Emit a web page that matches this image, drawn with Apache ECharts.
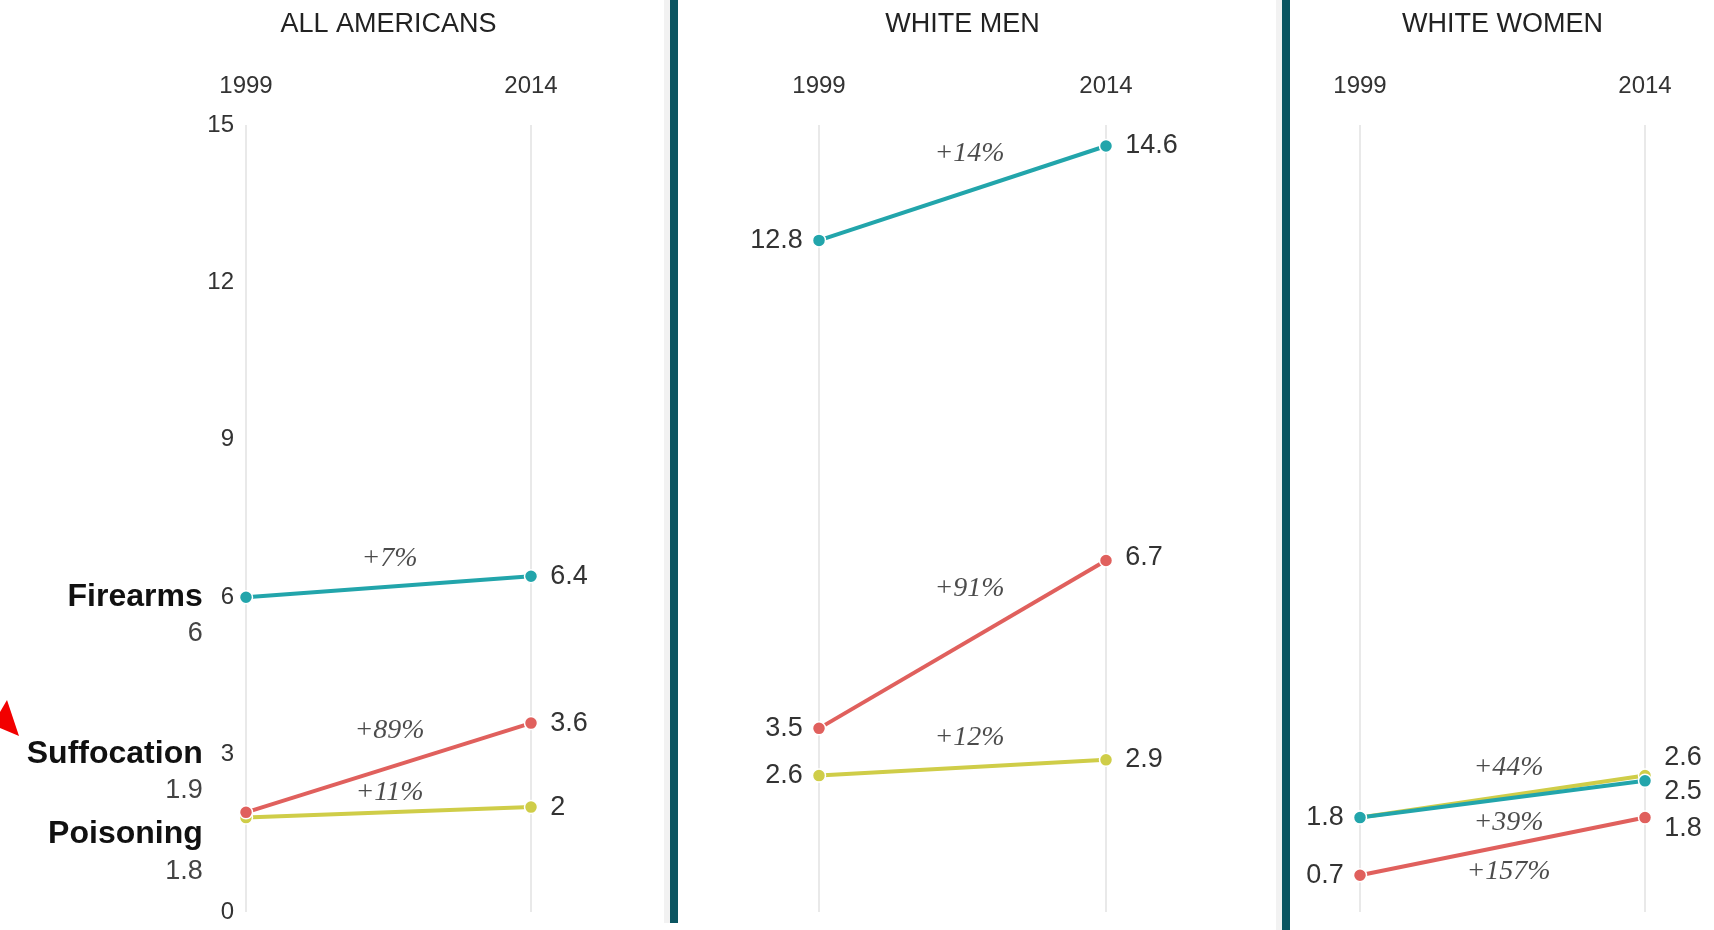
<!DOCTYPE html>
<html>
<head>
<meta charset="utf-8">
<script src="https://cdn.jsdelivr.net/npm/echarts@6/dist/echarts.min.js"></script>
<style>
  html, body { margin: 0; padding: 0; background: #fff; }
  #main { width: 1714px; height: 930px; }
</style>
</head>
<body>
<div id="main"></div>
<script>
// rates per 100,000, 1999 -> 2014
var years = ['1999', '2014'];
var panels = ['ALL AMERICANS', 'WHITE MEN', 'WHITE WOMEN'];
var causes = ['Poisoning', 'Firearms', 'Suffocation'];

var poisoning = [[1.8, 2], [2.6, 2.9], [1.8, 2.6]];
var firearms = [[6, 6.4], [12.8, 14.6], [1.8, 2.5]];
var suffocation = [[1.9, 3.6], [3.5, 6.7], [0.7, 1.8]];

var poisoningChange = ['+11%', '+12%', '+44%'];
var firearmsChange = ['+7%', '+14%', '+39%'];
var suffocationChange = ['+89%', '+91%', '+157%'];

var yMin = 0, yMax = 15, yStep = 3;

var colors = { Poisoning: '#cfcd48', Firearms: '#22a5ab', Suffocation: '#e0605d' };

// layout
var gridLeft = [246, 819, 1360];
var gridWidth = [285, 287, 285];
var gridTop = 125, gridBottom = 18;

// label nudges (px) per panel, per cause order above
var startLabelDy = [[35, 18, -40], [0, 0, 0], [0, 0, 0]];
var endLabelDy = [[0, 0, 0], [0, 0, -3], [-18, 11, 11]];
var pctOffset = [
  [[1, -20], [1, -28], [1, -37]],
  [[7, -30], [7, -40], [7, -56]],
  [[6, -29], [6, 23], [6, 25]]
];

var FONT = '"Liberation Sans", Arial, sans-serif';

var chart = echarts.init(document.getElementById('main'));

var values = { Poisoning: poisoning, Firearms: firearms, Suffocation: suffocation };
var changes = { Poisoning: poisoningChange, Firearms: firearmsChange, Suffocation: suffocationChange };

var grids = [], xAxes = [], yAxes = [], titles = [], series = [];

panels.forEach(function (p, i) {
  grids.push({ left: gridLeft[i], width: gridWidth[i], top: gridTop, bottom: gridBottom });
  titles.push({
    text: p,
    left: gridLeft[i] + gridWidth[i] / 2,
    top: 11,
    padding: 0,
    textAlign: 'center',
    textStyle: { fontFamily: FONT, fontSize: 27, fontWeight: 'normal', color: '#222' }
  });
  xAxes.push({
    type: 'category', gridIndex: i, data: years, position: 'top', boundaryGap: false,
    axisLine: { show: false }, axisTick: { show: false },
    axisLabel: { fontFamily: FONT, fontSize: 24, color: '#333', margin: 27 },
    splitLine: { show: true, lineStyle: { color: '#e2e2e2', width: 1.5 } }
  });
  // hidden 0..1 axis used to hang the % change labels halfway
  xAxes.push({ type: 'value', gridIndex: i, min: 0, max: 1, show: false });
  yAxes.push({
    type: 'value', gridIndex: i, min: yMin, max: yMax, interval: yStep,
    axisLine: { show: false }, axisTick: { show: false }, splitLine: { show: false },
    axisLabel: { show: i === 0, fontFamily: FONT, fontSize: 24, color: '#333', margin: 12 }
  });

  causes.forEach(function (c, k) {
    var v = values[c][i];
    var startLabel;
    if (i === 0) {
      startLabel = {
        show: true, position: 'left', distance: 36, offset: [0, startLabelDy[i][k]],
        formatter: '{n|' + c + '}\n{v|' + v[0] + '}',
        rich: {
          n: { fontFamily: FONT, fontSize: 32, fontWeight: 'bold', color: '#111', lineHeight: 37, align: 'right' },
          v: { fontFamily: FONT, fontSize: 27, color: '#444', lineHeight: 37, align: 'right' }
        }
      };
    } else {
      startLabel = {
        show: !(i === 2 && c === 'Poisoning'), position: 'left', distance: 9,
        offset: [0, startLabelDy[i][k]],
        fontFamily: FONT, fontSize: 27, color: '#333'
      };
    }
    series.push({
      type: 'line', name: c, xAxisIndex: i * 2, yAxisIndex: i,
      data: [
        { value: v[0], label: startLabel },
        { value: v[1], label: { show: true, position: 'right', distance: 12, offset: [0, endLabelDy[i][k]],
            fontFamily: FONT, fontSize: 27, color: '#333' } }
      ],
      symbol: 'circle', symbolSize: 13,
      lineStyle: { color: colors[c], width: 4 },
      itemStyle: { color: colors[c], borderColor: '#fff', borderWidth: 1.5 },
      label: { show: true },
      silent: true, animation: false, z: 3 + k
    });
    series.push({
      type: 'scatter', name: c + ' change', xAxisIndex: i * 2 + 1, yAxisIndex: i,
      symbolSize: 0,
      data: [{ value: [0.5, (v[0] + v[1]) / 2] }],
      label: {
        show: true, position: 'inside', offset: pctOffset[i][k],
        formatter: changes[c][i],
        fontFamily: '"Liberation Serif", "Times New Roman", serif', fontStyle: 'italic',
        fontSize: 28, color: '#1e1e1e'
      },
      silent: true, animation: false, z: 10
    });
  });
});

var option = {
  backgroundColor: '#fff',
  animation: false,
  title: titles,
  grid: grids,
  xAxis: xAxes,
  yAxis: yAxes,
  series: series,
  graphic: [
    // panel dividers
    { type: 'rect', shape: { x: 664, y: 0, width: 6, height: 923 }, style: { fill: '#f2f2f2' }, silent: true },
    { type: 'rect', shape: { x: 670, y: 0, width: 8, height: 923 }, style: { fill: '#0b5561' }, silent: true },
    { type: 'rect', shape: { x: 1276, y: 0, width: 6, height: 930 }, style: { fill: '#f2f2f2' }, silent: true },
    { type: 'rect', shape: { x: 1282, y: 0, width: 8, height: 930 }, style: { fill: '#0b5561' }, silent: true },
    // red pointer arrow
    { type: 'polygon', shape: { points: [[7, 700], [19, 736], [0, 728], [0, 712]] }, style: { fill: '#f20000' }, silent: true }
  ]
};

chart.setOption(option);
</script>
</body>
</html>
